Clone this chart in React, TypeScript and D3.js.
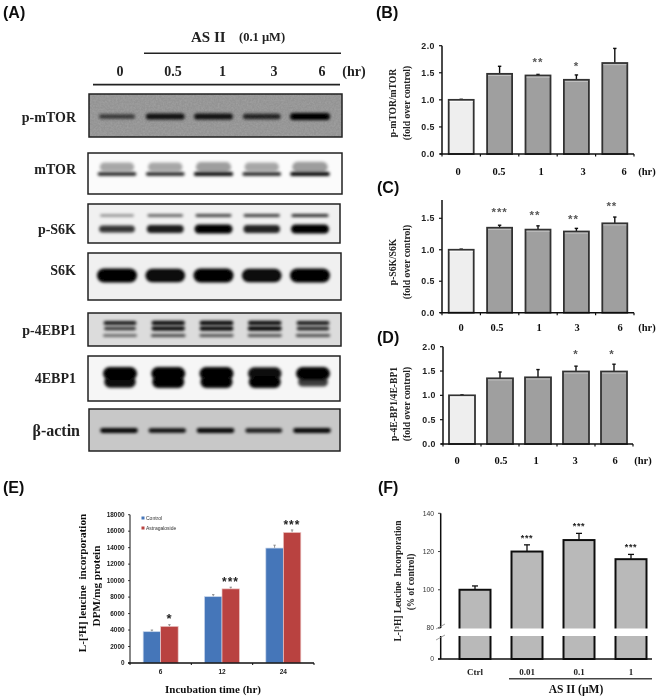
import React from "react";
import * as d3 from "d3";

// ---------- data ----------
const hours = ["0", "0.5", "1", "3", "6"];
const pMtorMean = [1.0, 1.48, 1.45, 1.37, 1.68];
const pMtorTop = [1.01, 1.62, 1.47, 1.46, 1.95];
const pS6kMean = [1.0, 1.35, 1.32, 1.29, 1.42];
const pS6kTop = [1.01, 1.39, 1.38, 1.34, 1.52];
const p4ebpMean = [1.0, 1.35, 1.37, 1.49, 1.49];
const p4ebpTop = [1.01, 1.48, 1.53, 1.6, 1.64];
const pMtorStars = ["", "", "**", "*", ""];
const pS6kStars = ["", "***", "**", "**", "**"];
const p4ebpStars = ["", "", "", "*", "*"];

const incubation = ["6", "12", "24"];
const controlMean = [3800, 8050, 13950];
const controlTop = [4000, 8300, 14300];
const astraMean = [4450, 9000, 15850];
const astraTop = [4650, 9200, 16150];
const leucineStars = ["*", "***", "***"];
const leucineTicks = [0, 2000, 4000, 6000, 8000, 10000, 12000, 14000, 16000, 18000];

const doses = ["Ctrl", "0.01", "0.1", "1"];
const doseMean = [100, 120, 126, 116];
const doseTop = [102, 123.5, 129.5, 118.5];
const doseStars = ["", "***", "***", "***"];
const doseTicks = [0, 80, 100, 120, 140];

// blot band densities per lane (0..1)
const pMtorBand = [0.35, 0.8, 0.8, 0.6, 1];
const mTorSmear = [0.7, 0.7, 0.85, 0.7, 0.9];
const mTorBand = [0.8, 0.8, 0.9, 0.8, 0.95];
const pS6kUpper = [0.25, 0.55, 0.65, 0.7, 0.85];
const pS6kLower = [0.6, 0.8, 1, 0.75, 1];
const s6kBand = [1, 0.95, 1, 0.95, 1];
const p4ebpA = [0.8, 0.9, 0.95, 0.9, 0.8];
const p4ebpB = [0.6, 0.9, 0.95, 1, 0.7];
const p4ebpC = [0.6, 0.75, 0.65, 0.65, 0.7];
const ebpUpper = [1, 1, 1, 0.9, 1];
const ebpLower = [0.9, 1, 1, 1, 0.55];
const actinBand = [0.95, 0.9, 0.95, 0.8, 0.95];

// ---------- layout ----------
const SERIF = "'Liberation Serif', serif";
const SANS = "'Liberation Sans', sans-serif";

const laneX = d3.scalePoint<string>().domain(hours).range([117, 310]);

type Layer = { d: number[]; y: number; h: number; w: number; op: number; dx?: number };
type Blot = {
  label: string; size?: number; labelX?: number; labelY: number; x: number; y: number; w: number; h: number;
  bg: string; noisy?: boolean; layers: Layer[];
};
const blots: Blot[] = [
  { label: "p-mTOR", labelY: 117, x: 89, y: 94, w: 253, h: 43, bg: "#939393", noisy: true,
    layers: [{ d: pMtorBand, y: 116.5, h: 7, w: 40, op: 1 }] },
  { label: "mTOR", labelY: 169, x: 88, y: 153, w: 254, h: 41, bg: "#fbfbfb",
    layers: [{ d: mTorSmear, y: 167, h: 11, w: 36, op: 0.4 }, { d: mTorBand, y: 174, h: 4, w: 40, op: 1 }] },
  { label: "p-S6K", labelY: 229, x: 88, y: 204, w: 252, h: 39, bg: "#f1f1f1",
    layers: [{ d: pS6kUpper, y: 215.5, h: 3.5, w: 38, op: 0.9 }, { d: pS6kLower, y: 229, h: 9, w: 38, op: 1 }] },
  { label: "S6K", labelY: 270, x: 88, y: 253, w: 253, h: 47, bg: "#f0f0f0",
    layers: [{ d: s6kBand, y: 275.5, h: 14, w: 40, op: 1 }] },
  { label: "p-4EBP1", labelY: 330, x: 88, y: 313, w: 253, h: 33, bg: "#dcdcdc",
    layers: [
      { d: p4ebpA, y: 323, h: 4.5, w: 34, op: 1, dx: 3 },
      { d: p4ebpB, y: 328.5, h: 4.5, w: 34, op: 1, dx: 3 },
      { d: p4ebpC, y: 335.5, h: 3.5, w: 36, op: 0.8, dx: 3 },
    ] },
  { label: "4EBP1", labelY: 378, x: 88, y: 356, w: 252, h: 45, bg: "#f6f6f6",
    layers: [{ d: ebpUpper, y: 373.5, h: 13, w: 34, op: 1, dx: 3 }, { d: ebpLower, y: 382, h: 12, w: 32, op: 1, dx: 3 }] },
  { label: "β-actin", labelY: 430, size: 16, labelX: 80, x: 89, y: 409, w: 251, h: 42, bg: "#c8c8c8",
    layers: [{ d: actinBand, y: 430.5, h: 5, w: 38, op: 1, dx: 2 }] },
];

const headerLabels: [string, number][] = [["0", 120], ["0.5", 173], ["1", 222.5], ["3", 274], ["6", 322], ["(hr)", 354]];

type Panel = {
  top: number; bottom: number; x0: number; x1: number; barW: number; maxVal: number; maxY: number;
  ticks: number[]; mean: number[]; errTop: number[]; stars: string[]; starY: number[]; starOffset: number[];
  labelX: number[]; hrX: number; labelY: number; yLabel: string; yX: number[]; yMid: number;
};
const panels: Panel[] = [
  { top: 45.7, bottom: 154, x0: 442, x1: 634, barW: 25, maxVal: 2, maxY: 45.7,
    ticks: [0, 0.5, 1, 1.5, 2], mean: pMtorMean, errTop: pMtorTop, stars: pMtorStars,
    starY: [0, 0, 60, 64, 0], starOffset: [0, 0, 0, 0, 0], labelX: [458, 499, 541, 583, 624], hrX: 647, labelY: 171,
    yLabel: "p-mTOR/mTOR", yX: [396, 410], yMid: 103 },
  { top: 200, bottom: 312.7, x0: 442, x1: 634, barW: 25, maxVal: 1.5, maxY: 218.3,
    ticks: [0, 0.5, 1, 1.5], mean: pS6kMean, errTop: pS6kTop, stars: pS6kStars,
    starY: [0, 210, 213, 217, 204], starOffset: [0, 0, -3, -3, -3], labelX: [461, 497, 539, 577, 620], hrX: 647, labelY: 327,
    yLabel: "p-S6K/S6K", yX: [396, 410], yMid: 262 },
  { top: 346.7, bottom: 444, x0: 443, x1: 633, barW: 26, maxVal: 2, maxY: 346.7,
    ticks: [0, 0.5, 1, 1.5, 2], mean: p4ebpMean, errTop: p4ebpTop, stars: p4ebpStars,
    starY: [0, 0, 0, 352, 352], starOffset: [0, 0, 0, 0, -2], labelX: [457, 501, 536, 575, 615], hrX: 643, labelY: 460,
    yLabel: "p-4E-BP1/4E-BP1", yX: [397, 410], yMid: 404 },
];

function Stars({ x, y, text, size = 12, fill = "#333" }: { x: number; y: number; text: string; size?: number; fill?: string }) {
  return (
    <text x={x} y={y + size * 0.55} textAnchor="middle" fontFamily={SANS} fontWeight="bold" fontSize={size} fill={fill} letterSpacing={size * 0.08}>
      {text}
    </text>
  );
}

function HourPanel({ p }: { p: Panel }) {
  const y = d3.scaleLinear().domain([0, p.maxVal]).range([p.bottom, p.maxY]);
  const x = d3.scaleBand<string>().domain(hours).range([p.x0, p.x1]);
  const edges = [...hours.map((h) => x(h)!), p.x1];
  return (
    <g>
      {hours.map((h, i) => {
        const cx = x(h)! + x.bandwidth() / 2;
        const top = y(p.mean[i]);
        return (
          <g key={h}>
            <line x1={cx} x2={cx} y1={top} y2={y(p.errTop[i])} stroke="#111" strokeWidth={1.4} />
            <line x1={cx - 1.7} x2={cx + 1.7} y1={y(p.errTop[i])} y2={y(p.errTop[i])} stroke="#111" strokeWidth={1.4} />
            <rect x={cx - p.barW / 2} y={top} width={p.barW} height={p.bottom - top} fill={i === 0 ? "#eeeeee" : "#9f9f9f"} stroke="#333" strokeWidth={1.8} />
            <line x1={cx - p.barW / 2 + 1} x2={cx + p.barW / 2 - 1} y1={top + 1.6} y2={top + 1.6} stroke={i === 0 ? "#fafafa" : "#c4c4c4"} strokeWidth={1} />
            {p.stars[i] && <Stars x={cx + p.starOffset[i]} y={p.starY[i]} text={p.stars[i]} size={11.5} fill="#555" />}
            <text x={p.labelX[i]} y={p.labelY} dy="0.35em" textAnchor="middle" fontFamily={SERIF} fontWeight="bold" fontSize={10.5} fill="#111">{h}</text>
          </g>
        );
      })}
      <text x={p.hrX} y={p.labelY} dy="0.35em" textAnchor="middle" fontFamily={SERIF} fontWeight="bold" fontSize={10.5} fill="#111">(hr)</text>
      <line x1={p.x0} x2={p.x0} y1={p.top} y2={p.bottom} stroke="#111" strokeWidth={1.5} />
      <line x1={p.x0 - 2} x2={p.x1} y1={p.bottom} y2={p.bottom} stroke="#111" strokeWidth={1.5} />
      {edges.map((e, i) => <line key={i} x1={e} x2={e} y1={p.bottom} y2={p.bottom + 2.5} stroke="#111" strokeWidth={1.2} />)}
      {p.ticks.map((t) => (
        <g key={t}>
          <line x1={p.x0 - 3} x2={p.x0} y1={y(t)} y2={y(t)} stroke="#111" strokeWidth={1.2} />
          <text x={p.x0 - 7} y={y(t)} dy="0.35em" textAnchor="end" fontFamily={SANS} fontWeight="bold" fontSize={8.8} letterSpacing={0.5} fill="#222">{t.toFixed(1)}</text>
        </g>
      ))}
      <g fontFamily={SERIF} fontWeight="bold" fontSize={9.6} fill="#222" textAnchor="middle">
        <text transform={`translate(${p.yX[0]},${p.yMid}) rotate(-90)`}>{p.yLabel}</text>
        <text transform={`translate(${p.yX[1]},${p.yMid}) rotate(-90)`}>(fold over control)</text>
      </g>
    </g>
  );
}

function LeucinePanel() {
  const y = d3.scaleLinear().domain([0, 18000]).range([663, 514.7]);
  const x = d3.scaleBand<string>().domain(incubation).range([130, 314]);
  const barW = 17.5;
  const edges = [...incubation.map((c) => x(c)!), 314];
  return (
    <g>
      {incubation.map((c, i) => {
        const cx = x(c)! + x.bandwidth() / 2;
        return (
          <g key={c}>
            {[
              { m: controlMean[i], t: controlTop[i], x: cx - barW, f: "#4576b9", s: "#c6d4ea" },
              { m: astraMean[i], t: astraTop[i], x: cx, f: "#b94240", s: "#edc9c8" },
            ].map((b, k) => (
              <g key={k}>
                <line x1={b.x + barW / 2} x2={b.x + barW / 2} y1={y(b.m)} y2={y(b.t)} stroke="#777" strokeWidth={0.8} />
                <line x1={b.x + barW / 2 - 1.2} x2={b.x + barW / 2 + 1.2} y1={y(b.t)} y2={y(b.t)} stroke="#777" strokeWidth={0.8} />
                <rect x={b.x} y={y(b.m)} width={barW} height={663 - y(b.m)} fill={b.f} stroke={b.s} strokeWidth={0.7} />
              </g>
            ))}
            <text x={cx} y={672} dy="0.35em" textAnchor="middle" fontFamily={SANS} fontWeight="bold" fontSize={6.5} fill="#222">{c}</text>
            <Stars x={cx + (i === 0 ? 9 : 8.5)} y={y(astraTop[i]) - (i === 0 ? 9 : 8)} text={leucineStars[i]} size={i === 0 ? 13 : 12} fill="#222" />
          </g>
        );
      })}
      <line x1={130} x2={130} y1={514.7} y2={663} stroke="#111" strokeWidth={1} />
      <line x1={128} x2={314} y1={663} y2={663} stroke="#111" strokeWidth={1.5} />
      {edges.map((e, i) => <line key={i} x1={e} x2={e} y1={663} y2={665} stroke="#111" strokeWidth={1} />)}
      {leucineTicks.map((t) => (
        <g key={t}>
          <line x1={128} x2={130} y1={y(t)} y2={y(t)} stroke="#111" strokeWidth={0.8} />
          <text x={124.5} y={y(t)} dy="0.35em" textAnchor="end" fontFamily={SANS} fontWeight="bold" fontSize={6.4} fill="#222">{t}</text>
        </g>
      ))}
      <rect x={141.5} y={516.5} width={3} height={3} fill="#4576b9" />
      <text x={146} y={518} dy="0.35em" fontFamily={SANS} fontSize={5} fill="#333">Control</text>
      <rect x={141.5} y={526.5} width={3} height={3} fill="#b94240" />
      <text x={146} y={528} dy="0.35em" fontFamily={SANS} fontSize={5} fill="#333">Astragaloside</text>
      <text transform="translate(86,583) rotate(-90)" textAnchor="middle" fontFamily={SERIF} fontWeight="bold" fontSize={11.2} fill="#111" xmlSpace="preserve">L-[³H] leucine  incorporation</text>
      <text transform="translate(100,586) rotate(-90)" textAnchor="middle" fontFamily={SERIF} fontWeight="bold" fontSize={11.2} fill="#111">DPM/mg protein</text>
      <text x={213} y={689} dy="0.35em" textAnchor="middle" fontFamily={SERIF} fontWeight="bold" fontSize={11} fill="#111">Incubation time (hr)</text>
    </g>
  );
}

function DosePanel() {
  const y = d3.scaleLinear().domain([0, 80, 140]).range([659, 628, 513.3]);
  const x = d3.scaleBand<string>().domain(doses).range([449, 657]);
  const barW = 31;
  const bottom = 659;
  return (
    <g>
      {doses.map((d, i) => {
        const cx = x(d)! + x.bandwidth() / 2;
        return (
          <g key={d}>
            <line x1={cx} x2={cx} y1={y(doseMean[i])} y2={y(doseTop[i])} stroke="#111" strokeWidth={1.3} />
            <line x1={cx - 3} x2={cx + 3} y1={y(doseTop[i])} y2={y(doseTop[i])} stroke="#111" strokeWidth={1.3} />
            <rect x={cx - barW / 2} y={y(doseMean[i])} width={barW} height={bottom - y(doseMean[i])} fill="#b9b9b9" stroke="#111" strokeWidth={2} />
            {doseStars[i] && <Stars x={cx} y={y(doseTop[i]) - 9} text={doseStars[i]} size={9} fill="#222" />}
            <text x={cx} y={672} dy="0.35em" textAnchor="middle" fontFamily={SERIF} fontWeight="bold" fontSize={9} fill="#222">{d}</text>
          </g>
        );
      })}
      <rect x={444} y={628.5} width={212} height={7.5} fill="#fff" />
      <line x1={440.7} x2={440.7} y1={513.3} y2={628} stroke="#111" strokeWidth={1.5} />
      <line x1={440.7} x2={440.7} y1={636} y2={659} stroke="#111" strokeWidth={1.5} />
      <line x1={436} x2={445} y1={629} y2={624} stroke="#777" strokeWidth={0.7} />
      <line x1={436} x2={445} y1={640} y2={635} stroke="#777" strokeWidth={0.7} />
      <line x1={438} x2={652} y1={bottom} y2={bottom} stroke="#111" strokeWidth={1.6} />
      {doseTicks.map((t) => (
        <g key={t}>
          <line x1={438} x2={440.7} y1={y(t)} y2={y(t)} stroke="#111" strokeWidth={0.8} />
          <text x={434} y={y(t)} dy="0.35em" textAnchor="end" fontFamily={SANS} fontSize={6.8} fill="#333">{t}</text>
        </g>
      ))}
      <line x1={509} x2={652} y1={678.7} y2={678.7} stroke="#444" strokeWidth={1.5} />
      <text x={576} y={689} dy="0.35em" textAnchor="middle" fontFamily={SERIF} fontWeight="bold" fontSize={11.5} fill="#111">AS II (µM)</text>
      <text transform="translate(401,581) rotate(-90)" textAnchor="middle" fontFamily={SERIF} fontWeight="bold" fontSize={9.4} fill="#222" xmlSpace="preserve">L-[³H] Leucine  Incorporation</text>
      <text transform="translate(414,582) rotate(-90)" textAnchor="middle" fontFamily={SERIF} fontWeight="bold" fontSize={9.4} fill="#222">(% of control)</text>
    </g>
  );
}

function BlotPanel() {
  return (
    <g>
      <text x={191} y={42} fontFamily={SERIF} fontWeight="bold" fontSize={15} fill="#222">AS II</text>
      <text x={239} y={41} fontFamily={SERIF} fontWeight="bold" fontSize={12.5} fill="#222">(0.1 µM)</text>
      <line x1={144} x2={341} y1={53.3} y2={53.3} stroke="#222" strokeWidth={1.4} />
      {headerLabels.map(([t, lx]) => (
        <text key={t} x={lx} y={71} dy="0.35em" textAnchor="middle" fontFamily={SERIF} fontWeight="bold" fontSize={14} fill="#222">{t}</text>
      ))}
      <line x1={93} x2={340} y1={84.7} y2={84.7} stroke="#222" strokeWidth={1.8} />
      {blots.map((b) => (
        <g key={b.label}>
          <rect x={b.x} y={b.y} width={b.w} height={b.h} fill={b.bg} />
          {b.noisy && <rect x={b.x} y={b.y} width={b.w} height={b.h} filter="url(#noise)" opacity={0.28} />}
          <g clipPath={`url(#clip-${b.y})`}>
            {b.layers.map((l, li) => (
              <g key={li} filter="url(#band)">
                {hours.map((h, i) => {
                  const bh = l.h * (0.45 + 0.55 * l.d[i]);
                  const bw = l.w * (0.85 + 0.15 * l.d[i]);
                  return (
                    <rect key={h} x={laneX(h)! + (l.dx ?? 0) - bw / 2} y={l.y - bh / 2} width={bw} height={bh} rx={Math.min(bh, bw) / 2} fill="#000" opacity={l.op * (0.45 + 0.55 * l.d[i])} />
                  );
                })}
              </g>
            ))}
          </g>
          <rect x={b.x} y={b.y} width={b.w} height={b.h} fill="none" stroke="#222" strokeWidth={1.5} />
          <text x={b.labelX ?? 76} y={b.labelY} dy="0.35em" textAnchor="end" fontFamily={SERIF} fontWeight="bold" fontSize={b.size ?? 14} fill="#222">{b.label}</text>
        </g>
      ))}
    </g>
  );
}

const panelTags: [string, number, number][] = [["(A)", 3, 18], ["(B)", 376, 18], ["(C)", 377, 193], ["(D)", 377, 343], ["(E)", 3, 493], ["(F)", 378, 493]];

export default function App() {
  return (
    <svg width={660} height={698} viewBox="0 0 660 698" style={{ position: "absolute", left: 0, top: 0, background: "#fff" }}>
      <defs>
        <filter id="soft" x="0" y="0" width="100%" height="100%"><feGaussianBlur stdDeviation="0.35" /></filter>
        <filter id="band" x="-10%" y="-100%" width="120%" height="300%"><feGaussianBlur stdDeviation="1.4" /></filter>
        <filter id="noise" x="0" y="0" width="100%" height="100%">
          <feTurbulence type="fractalNoise" baseFrequency="0.55" numOctaves="2" seed="4" />
          <feColorMatrix values="0 0 0 0 0.5  0 0 0 0 0.5  0 0 0 0 0.5  1.4 1.4 0 0 -1.0" />
        </filter>
        {blots.map((b) => (
          <clipPath key={b.y} id={`clip-${b.y}`}><rect x={b.x} y={b.y} width={b.w} height={b.h} /></clipPath>
        ))}
      </defs>
      <g filter="url(#soft)">
        <rect width={660} height={698} fill="#fff" />
        <BlotPanel />
        {panels.map((p) => <HourPanel key={p.yMid} p={p} />)}
        <LeucinePanel />
        <DosePanel />
        {panelTags.map(([t, x, y]) => (
          <text key={t} x={x} y={y} fontFamily={SANS} fontWeight="bold" fontSize={16} fill="#111">{t}</text>
        ))}
      </g>
    </svg>
  );
}
